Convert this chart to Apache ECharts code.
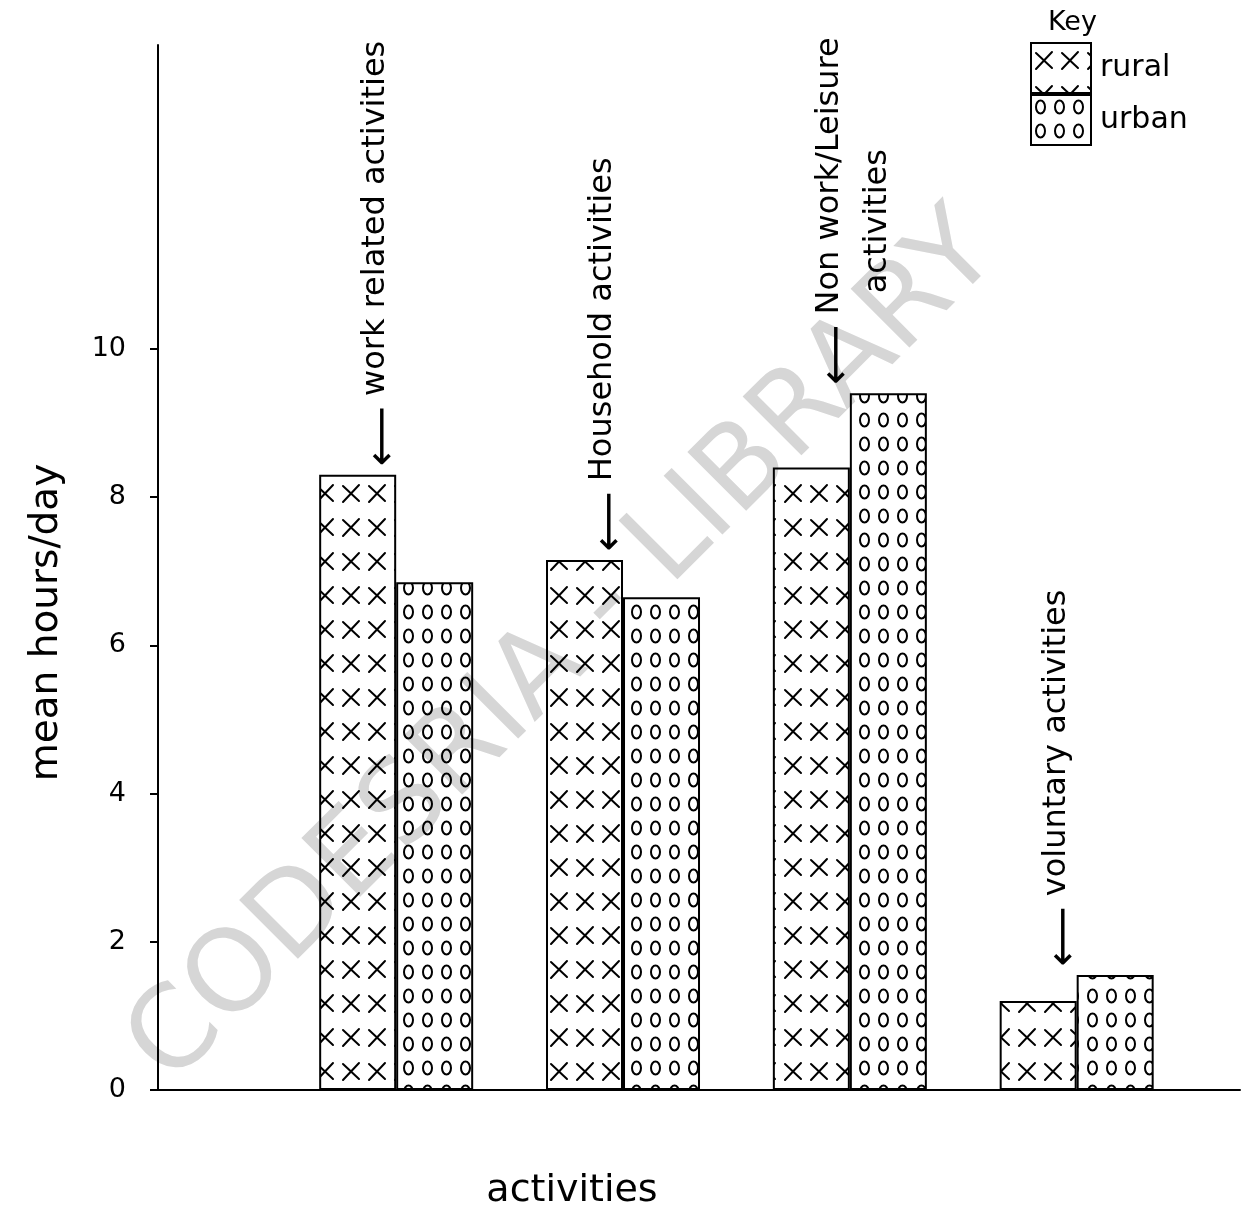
<!DOCTYPE html>
<html><head><meta charset="utf-8">
<script src="https://cdn.jsdelivr.net/npm/echarts@6/dist/echarts.min.js"></script>
<style>html,body{margin:0;padding:0;background:#fff}#c{width:1242px;height:1210px}</style>
</head><body><div id="c"></div>
<script>
const categories = ["work related activities", "Household activities", "Non work/Leisure\nactivities", "voluntary activities"];
const seriesNames = ["rural", "urban"];
const rural = [8.3, 7.15, 8.4, 1.2];
const urban = [6.85, 6.65, 9.4, 1.55];
const yTicks = [0, 2, 4, 6, 8, 10];
const yAxisTitle = "mean hours/day";
const xAxisTitle = "activities";
const keyTitle = "Key";
const watermark = "CODESRIA - LIBRARY";

const FONT = "DejaVu Sans";

function crossPattern() {
  const c = document.createElement('canvas'); c.width = 26; c.height = 34;
  const g = c.getContext('2d'); g.strokeStyle = '#000'; g.lineWidth = 2; g.lineCap = 'round';
  g.beginPath(); g.moveTo(5, 10); g.lineTo(21, 25); g.moveTo(21, 9); g.lineTo(5, 26); g.stroke();
  return c;
}
function ovalPattern() {
  const c = document.createElement('canvas'); c.width = 19; c.height = 24;
  const g = c.getContext('2d'); g.strokeStyle = '#000'; g.lineWidth = 2;
  g.beginPath(); g.ellipse(9.5, 12, 4.5, 6.5, 0, 0, Math.PI * 2); g.stroke();
  return c;
}
const patterns = [crossPattern(), ovalPattern()];
const values = [rural, urban];

const chart = echarts.init(document.getElementById('c'), null, {renderer: 'canvas'});

const barSeries = seriesNames.map((n, k) => ({
  type: 'bar', name: n,
  data: values[k].map((v, i) => [i + 1, v]),
  barWidth: 77, barGap: '0%',
  itemStyle: {color: {image: patterns[k], repeat: 'repeat'}, borderColor: '#000', borderWidth: 2},
  z: 3
}));

function annot(name) {
  const lines = name.split('\n');
  return lines.map((l, j) => (j === 0 ? '{a|\u27F5}{t| ' + l + '}' : '{t|         ' + l + '}')).join('\n');
}

const annotSeries = {
  type: 'scatter', name: 'annot', silent: true, symbolSize: 1,
  itemStyle: {color: 'rgba(0,0,0,0)', opacity: 1},
  data: categories.map((c, i) => ({name: c, value: [i + 1, Math.max(rural[i], urban[i])]})),
  label: {
    show: true, position: 'top', distance: 8, rotate: 90, align: 'left', verticalAlign: 'top',
    offset: [0, -44], color: '#000', opacity: 1,
    formatter: p => annot(p.name),
    rich: {
      a: {fontSize: 42, lineHeight: 42, fontFamily: FONT, color: '#000', padding: [16, 0, 0, 0]},
      t: {fontSize: 32, fontFamily: FONT, color: '#000', lineHeight: 48}
    }
  },
  z: 5
};

chart.setOption({
  animation: false,
  backgroundColor: '#fff',
  textStyle: {fontFamily: FONT, color: '#000'},
  title: {text: keyTitle, left: 1043, top: 4, textStyle: {fontSize: 27, fontWeight: 'normal', fontFamily: FONT, color: '#000'}},
  legend: {
    data: seriesNames, orient: 'vertical', left: 1030, top: 42, itemWidth: 60, itemHeight: 50, itemGap: 0,
    icon: 'rect', padding: 0,
    itemStyle: {borderColor: '#000', borderWidth: 2},
    textStyle: {fontSize: 30, fontFamily: FONT, color: '#000', padding: [0, 0, 0, 4]}
  },
  grid: {left: 158, right: 2, top: 45, bottom: 120, outerBoundsMode: 'none'},
  xAxis: {
    type: 'value', min: -0.05, max: 4.72,
    axisLine: {show: true, onZero: false, lineStyle: {color: '#000', width: 2}},
    axisTick: {show: false}, axisLabel: {show: false}, splitLine: {show: false},
    name: xAxisTitle, nameLocation: 'middle', nameGap: 82,
    nameTextStyle: {fontSize: 38, fontFamily: FONT, color: '#000', padding: [0, 254, 0, 0]}
  },
  yAxis: {
    type: 'value', min: 0, max: 14.1, interval: 2,
    axisLine: {show: true, onZero: false, lineStyle: {color: '#000', width: 2}},
    axisTick: {show: true, length: 8, lineStyle: {color: '#000', width: 2}, customValues: yTicks},
    axisLabel: {margin: 32, fontSize: 27, color: '#000', fontFamily: FONT, customValues: yTicks,
      formatter: v => (yTicks.indexOf(v) >= 0 ? String(v) : '')},
    splitLine: {show: false},
    name: yAxisTitle, nameLocation: 'middle', nameGap: 92,
    nameTextStyle: {fontSize: 39, fontFamily: FONT, color: '#000', padding: [0, 110, 0, 0]}
  },
  graphic: [{
    type: 'text', x: 565, y: 650, rotation: Math.PI / 4, z: 0, silent: true,
    style: {text: watermark, fontSize: 114, fontFamily: FONT, fill: '#d6d6d6', align: 'center', verticalAlign: 'middle'}
  }],
  series: [...barSeries, annotSeries]
});
</script></body></html>
